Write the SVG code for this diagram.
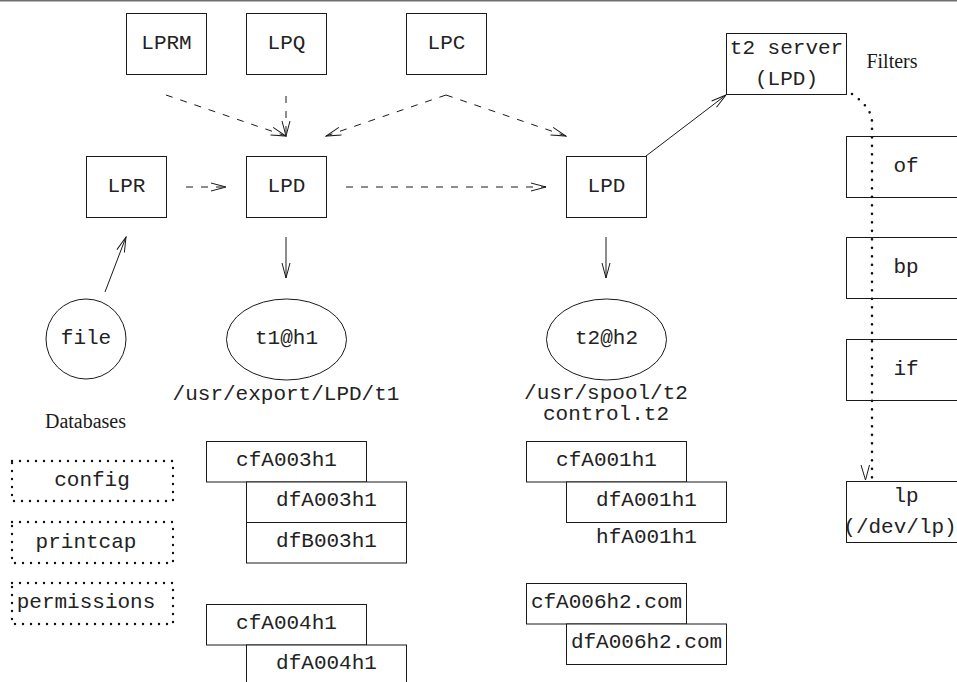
<svg xmlns="http://www.w3.org/2000/svg" width="957" height="682" viewBox="0 0 957 682">
  <defs>
    <style>
      .box { fill: #fff; stroke: #1a1a1a; stroke-width: 1; }
      .dbox { fill: none; stroke: #111; stroke-width: 2.4; stroke-dasharray: 0 8; stroke-linecap: round; }
      .ell { fill: #fff; stroke: #1a1a1a; stroke-width: 1; }
      .mono { font-family: "Liberation Mono", "Courier New", monospace; font-size: 21px; fill: #222; text-anchor: middle; }
      .serif { font-family: "Liberation Serif", "Times New Roman", serif; font-size: 20px; fill: #1a1a1a; text-anchor: middle; }
      .solid { fill: none; stroke: #1a1a1a; stroke-width: 1; }
      .dash { fill: none; stroke: #1a1a1a; stroke-width: 1; stroke-dasharray: 7 8; }
      .dot { fill: none; stroke: #111; stroke-width: 2.6; stroke-dasharray: 0 8.5; stroke-linecap: round; }
    </style>
    <marker id="arrow" viewBox="-1 -1 17 10" markerWidth="17" markerHeight="10" refX="15" refY="4" orient="auto" markerUnits="userSpaceOnUse">
      <path d="M0,0 L15,4 L0,8" fill="none" stroke="#1a1a1a" stroke-width="1"/>
    </marker>
  </defs>

  <rect width="957" height="682" fill="#fff"/>
  <line x1="0" y1="0.75" x2="957" y2="0.75" stroke="#707070" stroke-width="1.5"/>

  <!-- client programs -->
  <g id="lprm"><rect class="box" x="126.5" y="13.5" width="80" height="61"/><text class="mono" x="166.5" y="49">LPRM</text></g>
  <g id="lpq"><rect class="box" x="246.5" y="13.5" width="80" height="61"/><text class="mono" x="286.5" y="49">LPQ</text></g>
  <g id="lpc"><rect class="box" x="406.5" y="13.5" width="80" height="61"/><text class="mono" x="446.5" y="49">LPC</text></g>
  <g id="lpr"><rect class="box" x="86.5" y="156.5" width="80" height="61"/><text class="mono" x="126.5" y="192">LPR</text></g>
  <g id="lpd1"><rect class="box" x="246.5" y="156.5" width="80" height="61"/><text class="mono" x="286.5" y="192">LPD</text></g>
  <g id="lpd2"><rect class="box" x="566.5" y="156.5" width="80" height="61"/><text class="mono" x="606.5" y="192">LPD</text></g>
  <g id="t2server"><rect class="box" x="726.5" y="33.5" width="120" height="61"/><text class="mono" x="786.5" y="54">t2 server</text><text class="mono" x="786.5" y="85">(LPD)</text></g>

  <!-- filters -->
  <g id="filters-label"><text class="serif" x="892" y="68">Filters</text></g>
  <g id="of"><rect class="box" x="846.5" y="136.5" width="120" height="61"/><text class="mono" x="906" y="172">of</text></g>
  <g id="bp"><rect class="box" x="846.5" y="237.5" width="120" height="61"/><text class="mono" x="906" y="273">bp</text></g>
  <g id="if"><rect class="box" x="846.5" y="339.5" width="120" height="61"/><text class="mono" x="906" y="375">if</text></g>
  <g id="lp"><rect class="box" x="846.5" y="481.5" width="120" height="61"/><text class="mono" x="906" y="502">lp</text><text class="mono" x="900" y="533">(/dev/lp)</text></g>

  <!-- job source and queues -->
  <g id="file"><circle class="ell" cx="86" cy="339" r="40"/><text class="mono" x="86" y="344">file</text></g>
  <g id="t1h1"><ellipse class="ell" cx="286.5" cy="339.5" rx="60" ry="40.5"/><text class="mono" x="286.5" y="344">t1@h1</text><text class="mono" x="286" y="400">/usr/export/LPD/t1</text></g>
  <g id="t2h2"><ellipse class="ell" cx="606.5" cy="339.5" rx="60" ry="40.5"/><text class="mono" x="606.5" y="344">t2@h2</text><text class="mono" x="606" y="399">/usr/spool/t2</text><text class="mono" x="606" y="420">control.t2</text></g>

  <!-- databases -->
  <g id="databases-label"><text class="serif" x="85.5" y="428">Databases</text></g>
  <g id="config"><rect class="dbox" x="12" y="461" width="161" height="40"/><text class="mono" x="92" y="486">config</text></g>
  <g id="printcap"><rect class="dbox" x="12" y="522" width="161" height="41"/><text class="mono" x="86" y="548">printcap</text></g>
  <g id="permissions"><rect class="dbox" x="12" y="583" width="161" height="41"/><text class="mono" x="86" y="608">permissions</text></g>

  <!-- spool files on h1 -->
  <g id="cfA003h1"><rect class="box" x="206.5" y="441.5" width="160" height="40.5"/><text class="mono" x="286.5" y="466">cfA003h1</text></g>
  <g id="dfA003h1"><rect class="box" x="246.5" y="482" width="160" height="40.5"/><text class="mono" x="326.5" y="506">dfA003h1</text></g>
  <g id="dfB003h1"><rect class="box" x="246.5" y="522.5" width="160" height="40.5"/><text class="mono" x="326.5" y="547">dfB003h1</text></g>
  <g id="cfA004h1"><rect class="box" x="206.5" y="604.5" width="160" height="40.5"/><text class="mono" x="286.5" y="629">cfA004h1</text></g>
  <g id="dfA004h1"><rect class="box" x="246.5" y="645" width="160" height="50"/><text class="mono" x="326.5" y="669">dfA004h1</text></g>

  <!-- spool files on h2 -->
  <g id="cfA001h1"><rect class="box" x="526.5" y="441.5" width="160" height="40.5"/><text class="mono" x="606.5" y="466">cfA001h1</text></g>
  <g id="dfA001h1"><rect class="box" x="566.5" y="482" width="160" height="40.5"/><text class="mono" x="646.5" y="506">dfA001h1</text></g>
  <g id="hfA001h1"><text class="mono" x="646.5" y="543">hfA001h1</text></g>
  <g id="cfA006h2"><rect class="box" x="526.5" y="583.5" width="160" height="40.5"/><text class="mono" x="606.5" y="608">cfA006h2.com</text></g>
  <g id="dfA006h2"><rect class="box" x="566.5" y="624" width="160" height="40.5"/><text class="mono" x="646.5" y="648">dfA006h2.com</text></g>

  <!-- connectors, drawn over the nodes so the filter chain stays visible -->
  <g id="connectors">
    <path class="dash" d="M166,95 L286,136" marker-end="url(#arrow)"/>
    <path class="dash" d="M286,96 L286,136" marker-end="url(#arrow)"/>
    <path class="dash" d="M446,95 L326,136" marker-end="url(#arrow)"/>
    <path class="dash" d="M446,95 L566,136" marker-end="url(#arrow)"/>
    <path class="dash" d="M186,187 L226,187" marker-end="url(#arrow)"/>
    <path class="dash" d="M346,187 L546,187" marker-end="url(#arrow)"/>
    <path class="solid" d="M646,156 L726,95" marker-end="url(#arrow)"/>
    <path class="solid" d="M286,237 L286,278" marker-end="url(#arrow)"/>
    <path class="solid" d="M606,237 L606,278" marker-end="url(#arrow)"/>
    <path class="solid" d="M105,292 L126,237" marker-end="url(#arrow)"/>
    <path class="dot" d="M852,94 Q872,108 872,122 L872,478"/>
    <path class="solid" d="M861,465 L865.5,480 L869.5,465"/>
  </g>
</svg>
